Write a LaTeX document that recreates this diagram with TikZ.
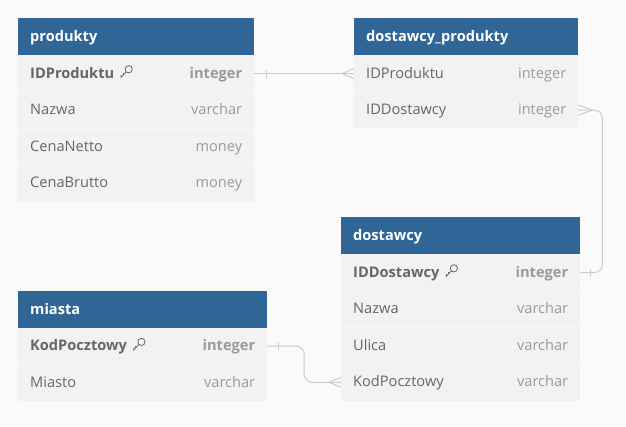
\documentclass[tikz,border=0pt]{standalone}
\usepackage{fontspec}
\setmainfont{Open Sans}
\usetikzlibrary{calc}
\definecolor{bgc}{HTML}{FAFAFA}
\definecolor{hdr}{HTML}{2F6695}
\definecolor{rowbg}{HTML}{F2F2F2}
\definecolor{sepc}{HTML}{F8F8F8}
\definecolor{txt}{HTML}{666666}
\definecolor{typ}{HTML}{9A9A9A}
\definecolor{connc}{HTML}{CCCCCC}
\tikzset{
  tbox/.style={anchor=north west, inner sep=0pt, draw=none, minimum height=36.6pt},
  hdrbox/.style={tbox, fill=hdr, minimum height=37pt},
  rowbox/.style={tbox, fill=rowbg},
  htext/.style={anchor=base west, inner sep=0pt, text=white, font=\fontsize{14.6}{16}\selectfont\bfseries},
  ftext/.style={anchor=base west, inner sep=0pt, text=txt, font=\fontsize{14.6}{16}\selectfont},
  kftext/.style={ftext, font=\fontsize{14.6}{16}\selectfont\bfseries},
  ttext/.style={anchor=base east, inner sep=0pt, text=typ, font=\fontsize{14.6}{16}\selectfont},
  kttext/.style={ttext, font=\fontsize{14.6}{16}\selectfont\bfseries},
  sepline/.style={draw=sepc, line width=0.8pt},
  conn/.style={draw=connc, line width=1pt},
  keyicon/.style={draw=txt, line width=0.8pt}
}
\newcommand\erhdr[5]{%
  \node[hdrbox, minimum width=#4pt] (#1) at (#2,#3) {};
  \node[htext] (#1-t) at ([xshift=12pt,yshift=-4.5pt]#1.west) {#5};}
\newcommand\errow[6]{%
  \node[rowbox, minimum width=#4pt] (#1) at (#2,#3) {};
  \draw[sepline] (#1.north west) -- (#1.north east);
  \node[ftext] (#1-f) at ([xshift=12pt,yshift=-4.5pt]#1.west) {#5};
  \node[ttext] (#1-y) at ([xshift=-12pt,yshift=-4.5pt]#1.east) {#6};}
\newcommand\erkey[6]{%
  \node[rowbox, minimum width=#4pt] (#1) at (#2,#3) {};
  \node[kftext] (#1-f) at ([xshift=12pt,yshift=-4.5pt]#1.west) {#5};
  \node[kttext] (#1-y) at ([xshift=-12pt,yshift=-4.5pt]#1.east) {#6};
  \begin{scope}[shift={([xshift=6pt,yshift=0pt]#1-f.base east)}, x=1pt, y=1pt]
    \draw[keyicon] (8.3,8.7) circle (3.6);
    \draw[keyicon] (5.7,6.1) -- (0.6,0.6) -- (0.6,3);
    \draw[keyicon] (2.8,3) -- (2.8,4.8);
  \end{scope}}
\begin{document}
\begin{tikzpicture}[x=1pt,y=-1pt]
\fill[bgc] (0,0) rectangle (626,426);
\useasboundingbox (0,0) rectangle (626,426);
% produkty
\erhdr{p}{18}{18}{236}{produkty}
\erkey{p-r1}{18}{55}{236}{IDProduktu}{integer}
\errow{p-r2}{18}{91.6}{236}{Nazwa}{varchar}
\errow{p-r3}{18}{128.2}{236}{CenaNetto}{money}
\errow{p-r4}{18}{164.8}{236}{CenaBrutto}{money}
% dostawcy_produkty
\erhdr{dp}{354}{18}{224}{dostawcy\_produkty}
\node[rowbox, minimum width=224pt] (dp-r1) at (354,55) {};
\node[ftext] (dp-r1-f) at ([xshift=12pt,yshift=-4.5pt]dp-r1.west) {IDProduktu};
\node[ttext] (dp-r1-y) at ([xshift=-12pt,yshift=-4.5pt]dp-r1.east) {integer};
\errow{dp-r2}{354}{91.6}{224}{IDDostawcy}{integer}
% dostawcy
\erhdr{d}{341}{217}{239}{dostawcy}
\erkey{d-r1}{341}{254}{239}{IDDostawcy}{integer}
\errow{d-r2}{341}{290.6}{239}{Nazwa}{varchar}
\errow{d-r3}{341}{327.2}{239}{Ulica}{varchar}
\errow{d-r4}{341}{363.8}{239}{KodPocztowy}{varchar}
% miasta
\erhdr{m}{18}{291}{249}{miasta}
\erkey{m-r1}{18}{327.6}{249}{KodPocztowy}{integer}
\errow{m-r2}{18}{364.2}{249}{Miasto}{varchar}
% connector 1
\draw[conn] (p-r1.east) -- (dp-r1.west);
\draw[conn] ([xshift=12pt,yshift=4pt]p-r1.east) -- ([xshift=12pt,yshift=-4pt]p-r1.east);
\draw[conn] ([yshift=5pt]dp-r1.west) -- ([xshift=-12pt]dp-r1.west) -- ([yshift=-5pt]dp-r1.west);
% connector 2
\draw[conn, rounded corners=8pt] (dp-r2.east) -- ++(24,0) |- (d-r1.east);
\draw[conn] ([yshift=5pt]dp-r2.east) -- ([xshift=14pt]dp-r2.east) -- ([yshift=-5pt]dp-r2.east);
\draw[conn] ([xshift=10pt,yshift=4pt]d-r1.east) -- ([xshift=10pt,yshift=-4pt]d-r1.east);
% connector 3
\coordinate (m3) at ($(m-r1.east)!.5!(d-r4.west)$);
\draw[conn, rounded corners=8pt] (m-r1.east) -| (m3) |- (d-r4.west);
\draw[conn] ([xshift=11pt,yshift=4pt]m-r1.east) -- ([xshift=11pt,yshift=-4pt]m-r1.east);
\draw[conn] ([yshift=5pt]d-r4.west) -- ([xshift=-12pt]d-r4.west) -- ([yshift=-5pt]d-r4.west);
\end{tikzpicture}
\end{document}
